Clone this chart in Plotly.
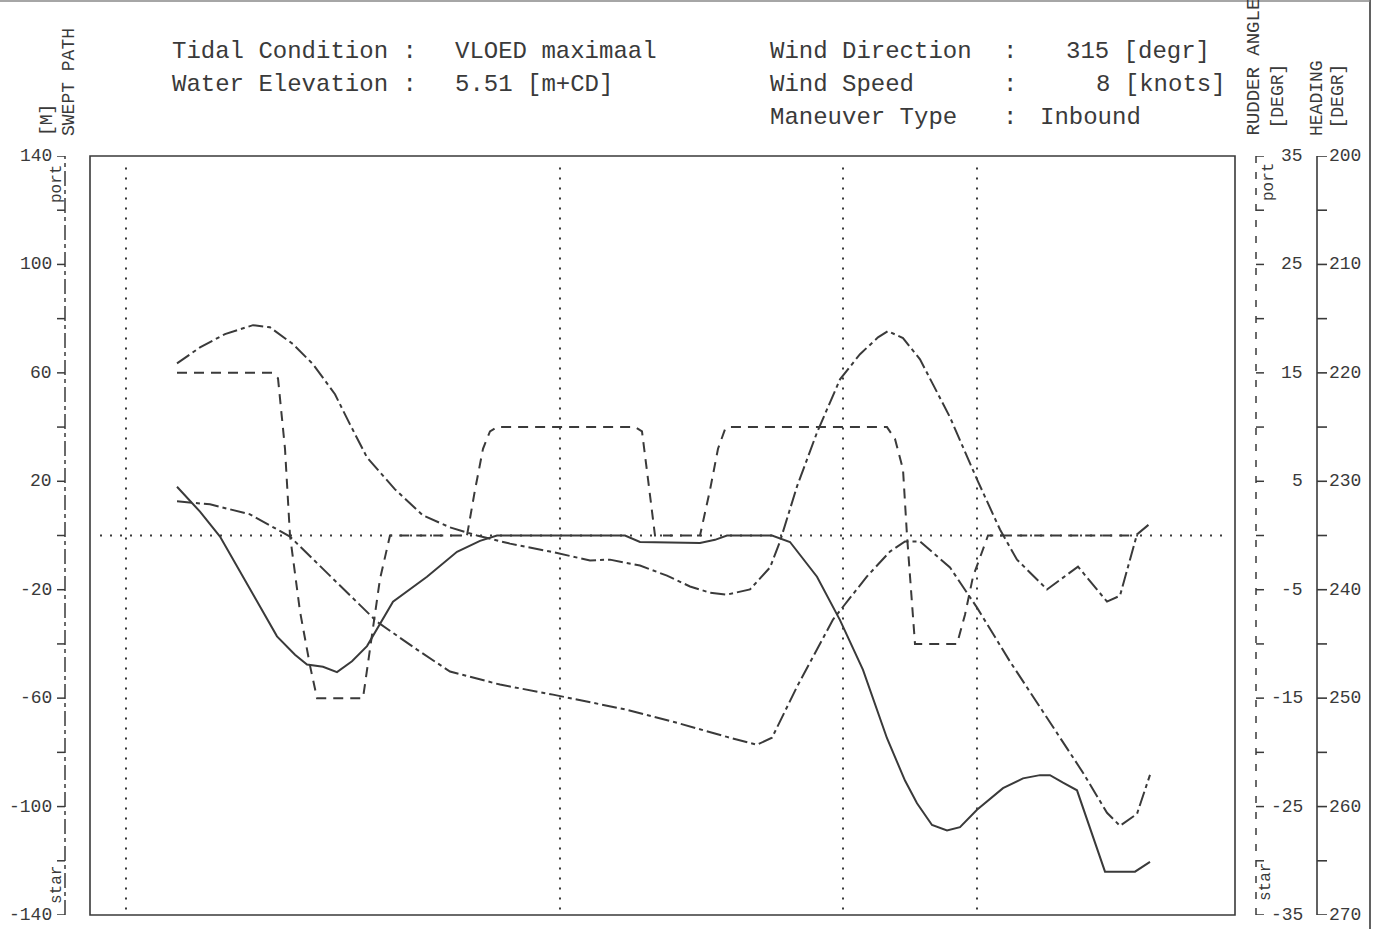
import plotly.graph_objects as go

# ---------------------------------------------------------------------------
# Simulation run: swept path (port / starboard), rudder angle and heading
# sampled along the manoeuvre (track position, arbitrary units 0..1145)
# ---------------------------------------------------------------------------
port_x = [87, 110, 135, 163, 180, 203, 223, 245, 260, 277, 305, 333, 360, 387,
          420, 460, 500, 520, 550, 577, 600, 620, 637, 660, 680, 690, 707, 727,
          750, 770, 788, 798, 813, 830, 860, 887, 910, 927, 957, 988, 1017,
          1030, 1047, 1060]
port_path = [63.5, 69.4, 74.3, 77.6, 76.8, 70.6, 63.2, 52.1, 41.0, 28.8, 17.0,
             7.4, 3.0, 0.0, -3.0, -5.9, -9.2, -8.9, -11.1, -14.8, -18.8, -21.1,
             -21.8, -19.9, -11.8, -2.2, 18.1, 38.0, 57.6, 66.9, 73.1, 75.4,
             72.8, 65.0, 43.6, 20.7, 2.2, -8.9, -19.9, -11.5, -24.4, -22.2,
             0.4, 4.4]

star_x = [87, 120, 160, 200, 247, 287, 327, 360, 410, 463, 537, 587, 637, 667,
          682, 707, 743, 777, 800, 815, 830, 860, 887, 920, 953, 993, 1017,
          1030, 1047, 1060]
star_path = [12.6, 11.5, 7.8, -0.4, -17.4, -31.8, -42.1, -50.2, -55.0, -58.7,
             -64.3, -69.1, -74.3, -77.2, -74.6, -55.8, -31.0, -15.1, -5.9,
             -2.2, -2.2, -11.8, -26.6, -46.5, -65.0, -87.5, -102.3, -107.1,
             -102.7, -88.3]

heading_x = [87, 110, 130, 160, 187, 205, 217, 233, 247, 262, 277, 303, 337,
             367, 390, 407, 535, 550, 610, 625, 637, 682, 700, 727, 750, 773,
             797, 815, 827, 842, 857, 870, 887, 913, 933, 950, 960, 973, 987,
             1015, 1045, 1060]
heading = [230.5, 232.8, 235.1, 240.0, 244.3, 246.0, 246.9, 247.1, 247.6,
           246.6, 245.2, 241.1, 238.8, 236.5, 235.5, 235.0, 235.0, 235.6,
           235.7, 235.4, 235.0, 235.0, 235.6, 238.8, 242.8, 247.4, 253.7,
           257.6, 259.7, 261.7, 262.2, 261.9, 260.3, 258.3, 257.4, 257.1,
           257.1, 257.8, 258.5, 266.0, 266.0, 265.1]

rudder_x = [87, 182, 188, 195, 200, 210, 220, 227, 273, 280, 290, 300, 377,
            385, 393, 400, 407, 545, 552, 558, 565, 610, 620, 628, 635, 638,
            797, 805, 813, 817, 821, 825, 867, 875, 883, 893, 898, 1048]
rudder = [15, 15, 14.5, 8, 0, -7, -12, -15, -15, -10.5, -4, 0, 0, 4.2, 8, 9.6,
          10, 10, 9.6, 5.2, 0, 0, 4.2, 8, 9.8, 10, 10, 8.9, 6.1, 0, -5, -10,
          -10, -7.3, -3.8, -1.3, 0, 0]

# event markers along the track
event_x = [36, 470, 753, 887]

# axis ticks
path_ticks = [140, 100, 60, 20, -20, -60, -100, -140]
path_minor = [120, 80, 40, 0, -40, -80, -120]
rudder_ticks = [35, 25, 15, 5, -5, -15, -25, -35]
rudder_minor = [30, 20, 10, 0, -10, -20, -30]
heading_ticks = [200, 210, 220, 230, 240, 250, 260, 270]
heading_minor = [205, 215, 225, 235, 245, 255, 265]

# ---------------------------------------------------------------------------
W, H = 1381, 929
L, R, T, B = 90, 1235, 156, 915
INK = "#3a3a3a"
FONT = "Liberation Mono"
DASHDOT = "15px,4px,4px,4px"
DASHED = "10px,7px"
DOTTED = "2px,8px"


def px_x(px):
    return (px - L) / (R - L)


def px_y(py):
    return (B - py) / (B - T)


fig = go.Figure()
fig.add_trace(go.Scatter(x=port_x, y=port_path, mode="lines", yaxis="y",
                         line=dict(color=INK, width=2, dash=DASHDOT),
                         name="swept path port"))
fig.add_trace(go.Scatter(x=star_x, y=star_path, mode="lines", yaxis="y",
                         line=dict(color=INK, width=2, dash=DASHDOT),
                         name="swept path star"))
fig.add_trace(go.Scatter(x=rudder_x, y=rudder, mode="lines", yaxis="y2",
                         line=dict(color=INK, width=2, dash=DASHED),
                         name="rudder angle"))
fig.add_trace(go.Scatter(x=heading_x, y=heading, mode="lines", yaxis="y3",
                         line=dict(color=INK, width=2),
                         name="heading"))

shapes = []
ann = []

# frame
shapes.append(dict(type="rect", xref="paper", yref="paper", x0=0, x1=1, y0=0,
                   y1=1, line=dict(color=INK, width=1.6)))
# zero line and event lines
shapes.append(dict(type="line", xref="x", yref="y", x0=10, x1=1132, y0=0, y1=0,
                   line=dict(color=INK, width=2, dash=DOTTED)))
for ex in event_x:
    shapes.append(dict(type="line", xref="x", yref="y", x0=ex, x1=ex,
                       y0=-138, y1=138,
                       line=dict(color=INK, width=2, dash=DOTTED)))

# page border
shapes.append(dict(type="line", xref="paper", yref="paper", x0=px_x(1370),
                   x1=px_x(1370), y0=px_y(0), y1=px_y(929),
                   line=dict(color=INK, width=1.6)))
shapes.append(dict(type="line", xref="paper", yref="paper", x0=px_x(0),
                   x1=px_x(1370), y0=px_y(1), y1=px_y(1),
                   line=dict(color="#888888", width=1.5)))

# swept path axis (left)
ax_l = px_x(65)
shapes.append(dict(type="line", xref="paper", yref="y", x0=ax_l, x1=ax_l,
                   y0=-140, y1=140, line=dict(color=INK, width=1.5, dash=DASHDOT)))
for v in path_ticks + path_minor:
    shapes.append(dict(type="line", xref="paper", yref="y", x0=px_x(57),
                       x1=ax_l, y0=v, y1=v, line=dict(color=INK, width=1.5)))
for v in path_ticks:
    ann.append(dict(xref="paper", yref="y", x=px_x(54), y=v, text=str(v),
                    xanchor="right", yanchor="middle", showarrow=False,
                    font=dict(family=FONT, size=18, color=INK)))

# rudder axis (right, dashed)
ax_r = px_x(1256)
shapes.append(dict(type="line", xref="paper", yref="y2", x0=ax_r, x1=ax_r,
                   y0=-35, y1=35, line=dict(color=INK, width=1.5, dash="7px,9px")))
for v in rudder_ticks + rudder_minor:
    shapes.append(dict(type="line", xref="paper", yref="y2", x0=ax_r,
                       x1=px_x(1264), y0=v, y1=v,
                       line=dict(color=INK, width=1.5)))
for v in rudder_ticks:
    ann.append(dict(xref="paper", yref="y2", x=px_x(1305), y=v, text=str(v),
                    xanchor="right", yanchor="middle", showarrow=False,
                    font=dict(family=FONT, size=18, color=INK)))

# heading axis (right, solid)
ax_h = px_x(1317)
shapes.append(dict(type="line", xref="paper", yref="y3", x0=ax_h, x1=ax_h,
                   y0=200, y1=270, line=dict(color=INK, width=1.6)))
for v in heading_ticks + heading_minor:
    shapes.append(dict(type="line", xref="paper", yref="y3", x0=ax_h,
                       x1=px_x(1327), y0=v, y1=v,
                       line=dict(color=INK, width=1.6)))
for v in heading_ticks:
    ann.append(dict(xref="paper", yref="y3", x=px_x(1327), y=v, text=str(v),
                    xanchor="left", yanchor="middle", showarrow=False,
                    font=dict(family=FONT, size=18, color=INK)))


def label(text, px, py, size=18, angle=-90, xa="center", ya="bottom"):
    ann.append(dict(xref="paper", yref="paper", x=px_x(px), y=px_y(py),
                    text=text, textangle=angle, xanchor=xa, yanchor=ya,
                    showarrow=False,
                    font=dict(family=FONT, size=size, color=INK)))


# axis titles
label("[M]", 47, 138)
label("SWEPT PATH", 69, 138)
label("RUDDER ANGLE", 1254, 138, size=19)
label("[DEGR]", 1278, 131)
label("HEADING", 1317, 138)
label("[DEGR]", 1338, 131)
label("port", 57, 184, size=16, ya="middle")
label("star", 57, 885, size=16, ya="middle")
label("port", 1269, 182, size=16, ya="middle")
label("star", 1266, 882, size=16, ya="middle")

# run description
HS = 24
label("Tidal Condition :", 170, 52, size=HS, angle=0, xa="left", ya="middle")
label("VLOED maximaal", 453, 52, size=HS, angle=0, xa="left", ya="middle")
label("Water Elevation :", 170, 85, size=HS, angle=0, xa="left", ya="middle")
label("5.51 [m+CD]", 453, 85, size=HS, angle=0, xa="left", ya="middle")
label("Wind Direction", 768, 52, size=HS, angle=0, xa="left", ya="middle")
label("Wind Speed", 768, 85, size=HS, angle=0, xa="left", ya="middle")
label("Maneuver Type", 768, 118, size=HS, angle=0, xa="left", ya="middle")
for py in (52, 85, 118):
    label(":", 1010, py, size=HS, angle=0, ya="middle")
label("315 [degr]", 1212, 52, size=HS, angle=0, xa="right", ya="middle")
label("8 [knots]", 1228, 85, size=HS, angle=0, xa="right", ya="middle")
label("Inbound", 1038, 118, size=HS, angle=0, xa="left", ya="middle")

fig.update_layout(
    width=W, height=H,
    margin=dict(l=L, r=W - R, t=T, b=H - B, pad=0),
    paper_bgcolor="white", plot_bgcolor="white",
    showlegend=False,
    xaxis=dict(range=[0, R - L], visible=False),
    yaxis=dict(range=[-140, 140], visible=False),
    yaxis2=dict(range=[-35, 35], overlaying="y", visible=False),
    yaxis3=dict(range=[270, 200], overlaying="y", visible=False),
    shapes=shapes,
    annotations=ann,
)

fig.write_html("out.html")
